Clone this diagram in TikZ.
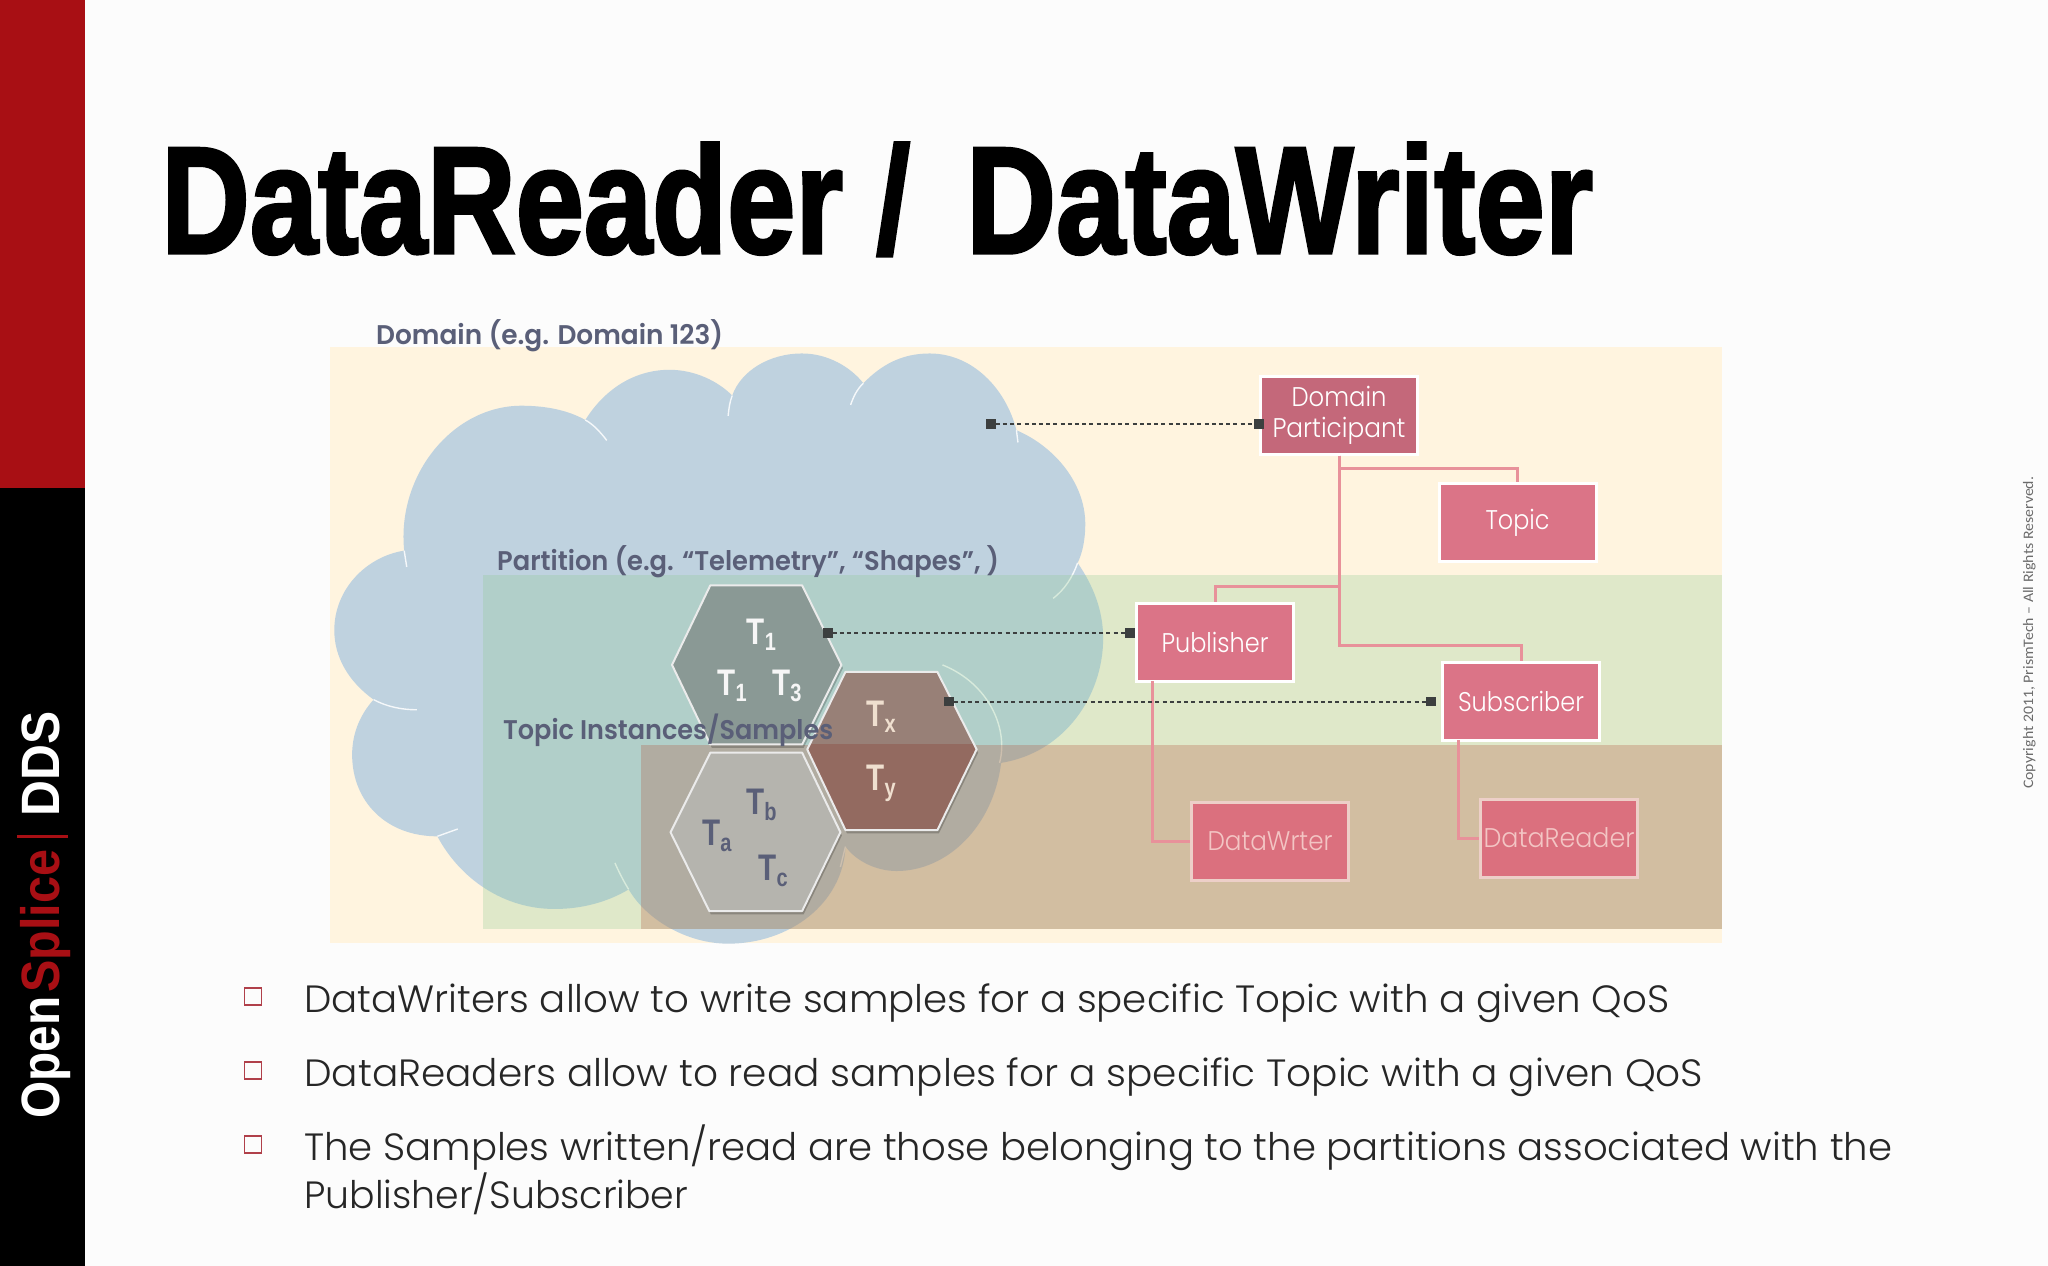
\documentclass[tikz,border=0pt]{standalone}
\usepackage{fontspec}
\usepackage{graphicx}
\setmainfont{Liberation Sans}
\newfontfamily\gothic{Poppins}[UprightFont=* Light,BoldFont=* SemiBold]
\newfontfamily\carl{Carlito}
\newfontfamily\heavy{Liberation Sans}[BoldFeatures={FakeBold=2.2}]
\newcommand{\fitw}[2]{\resizebox{#1pt}{\height}{#2}}
\newcommand{\Tl}[1]{\scalebox{.8}[1]{\bfseries\fontsize{37}{37}\selectfont T\raisebox{-6pt}{\fontsize{25}{25}\selectfont #1}}}
\definecolor{domainbg}{HTML}{FFF4DF}
\definecolor{cloudc}{HTML}{BFD2DF}
\definecolor{partc}{RGB}{141,201,144}
\definecolor{thirdc}{RGB}{180,93,70}
\definecolor{labelc}{HTML}{5A5F78}
\definecolor{redbar}{HTML}{A80F14}
\definecolor{boxa}{HTML}{DB7487}
\definecolor{boxdp}{HTML}{C4687A}
\definecolor{boxb}{HTML}{DB707E}
\definecolor{linkc}{HTML}{E8919A}
\definecolor{dotc}{HTML}{3C3F3F}
\definecolor{lowedge}{HTML}{EDCFC8}
\definecolor{lowtext}{HTML}{F3C5C4}
\definecolor{bulc}{HTML}{B0404A}
\tikzset{
  plainbox/.style={draw=white,line width=3pt,fill=boxa,text=white,minimum width=157pt,minimum height=78pt,inner sep=0pt,align=center,font=\gothic\fontsize{27}{32}\selectfont},
  lowbox/.style={plainbox,draw=lowedge,fill=boxb,text=lowtext},
  link/.style={draw=linkc,line width=3pt},
  sq/.style={fill=dotc,minimum size=9.5pt,inner sep=0pt,outer sep=0pt},
  dotline/.style={draw=dotc,line width=2pt,dash pattern=on 4pt off 3.2pt},
  zone/.style={inner sep=0pt,anchor=base west,text=labelc,font=\gothic\bfseries\fontsize{27}{30}\selectfont},
  bodyt/.style={inner sep=0pt,anchor=base west,text=black!85,font=\gothic\fontsize{38}{40}\selectfont},
  bul/.style={draw=bulc,line width=1.8pt,minimum size=17pt,inner sep=0pt},
  arc/.style={draw=white!85!cloudc,line width=1.4pt},
  hexb/.style={draw=white!92!black,line width=2pt,line join=round},
  tlabel/.style={inner sep=0pt},
  side/.style={rotate=90,anchor=base west,inner sep=0pt,font=\bfseries\fontsize{54}{54}\selectfont},
}
\begin{document}
\begin{tikzpicture}[x=1pt,y=-1pt]
\useasboundingbox (0,0) rectangle (2048,1266);
\fill[white!99!black] (0,0) rectangle (2048,1266);
% side bar
\fill[redbar] (0,0) rectangle (85,488);
\fill[black] (0,488) rectangle (85,1266);
\node[side,text=white] (sopen) at (59,1119) {\fitw{122}{Open}};
\node[side,text=redbar] (ssplice) at (59,993) {\fitw{143}{Splice}};
\fill[redbar] (17,834.5) rectangle (68,837.5);
\node[side,text=white] (sdds) at (59,817) {\fitw{105}{DDS}};
% title
\node[inner sep=0pt,anchor=base west] (title) at (161,253) {\heavy\bfseries\fontsize{152}{152}\selectfont\fitw{682}{DataReader}};
\node[inner sep=0pt,anchor=base west] (slash) at (876,253) {\heavy\bfseries\fontsize{152}{152}\selectfont\fitw{34}{/}};
\node[inner sep=0pt,anchor=base west] (title2) at (966,253) {\heavy\bfseries\fontsize{152}{152}\selectfont\fitw{627}{DataWriter}};
% backgrounds and cloud
\fill[domainbg] (330,347) rectangle (1722,943);
\begin{scope}[shift={(320,320)},x=0.5102pt,y=-0.40816pt]
\fill[cloudc] (520,245)
  .. controls (560,165) and (620,122) .. (685,122)
  .. controls (735,122) and (780,150) .. (808,185)
  .. controls (825,125) and (880,82) .. (945,82)
  .. controls (995,82) and (1040,115) .. (1065,155)
  .. controls (1100,110) and (1140,82) .. (1195,82)
  .. controls (1280,82) and (1345,170) .. (1365,270)
  .. controls (1440,310) and (1500,400) .. (1500,500)
  .. controls (1500,535) and (1495,570) .. (1485,595)
  .. controls (1515,650) and (1535,710) .. (1535,780)
  .. controls (1535,920) and (1460,1060) .. (1335,1085)
  .. controls (1320,1240) and (1230,1350) .. (1130,1350)
  .. controls (1090,1350) and (1050,1325) .. (1030,1290)
  .. controls (1025,1430) and (920,1528) .. (800,1528)
  .. controls (720,1528) and (640,1470) .. (605,1395)
  .. controls (565,1425) and (515,1443) .. (460,1443)
  .. controls (360,1443) and (275,1370) .. (230,1265)
  .. controls (130,1265) and (63,1180) .. (63,1065)
  .. controls (63,1010) and (80,965) .. (105,930)
  .. controls (55,885) and (28,825) .. (28,760)
  .. controls (28,660) and (90,580) .. (165,565)
  .. controls (150,380) and (260,210) .. (395,210)
  .. controls (440,210) and (485,220) .. (520,245) -- cycle;
\draw[arc] (520,245) .. controls (535,255) and (550,275) .. (562,295);
\draw[arc] (808,185) .. controls (803,200) and (801,220) .. (800,235);
\draw[arc] (1065,155) .. controls (1052,170) and (1045,190) .. (1040,208);
\draw[arc] (1365,270) -- (1368,300);
\draw[arc] (1485,595) .. controls (1475,630) and (1460,660) .. (1437,682);
\draw[arc] (1220,845) .. controls (1310,890) and (1350,1000) .. (1332,1085);
\draw[arc] (1030,1290) -- (1020,1340);
\draw[arc] (605,1395) .. controls (595,1375) and (585,1350) .. (578,1330);
\draw[arc] (230,1265) -- (270,1247);
\draw[arc] (105,930) .. controls (130,947) and (160,955) .. (190,955);
\draw[arc] (165,565) -- (170,605);
\end{scope}
\fill[partc,opacity=.28] (483,575) rectangle (1722,929);
\fill[thirdc,opacity=.3] (641,744.5) rectangle (1722,929);
% hexagons
\begin{scope}[shift={(320,320)},x=0.5102pt,y=-0.40816pt]
\def\hexA{(765,650) -- (945,650) -- (1022,845) -- (945,1040) -- (765,1040) -- (690,845) -- cycle}
\def\hexB{(1030,862) -- (1210,862) -- (1287,1052) -- (1210,1250) -- (1030,1250) -- (955,1052) -- cycle}
\def\hexC{(765,1060) -- (945,1060) -- (1020,1255) -- (945,1448) -- (763,1448) -- (687,1255) -- cycle}
\fill[black,opacity=.22,shift={(3,8)}] \hexA;
\fill[black,opacity=.22,shift={(3,8)}] \hexB;
\fill[black,opacity=.22,shift={(3,8)}] \hexC;
\fill[color={rgb,255:red,138;green,153;blue,149}] \hexA;
\fill[color={rgb,255:red,152;green,128;blue,119}] \hexB;
\begin{scope}
\clip (0,1040) rectangle (1600,1400);
\fill[color={rgb,255:red,147;green,106;blue,96}] \hexB;
\end{scope}
\fill[color={rgb,255:red,181;green,180;blue,174}] \hexC;
\draw[hexb] \hexA;
\draw[hexb] \hexB;
\draw[hexb] \hexC;
\node[tlabel,text=white!65!black!10] (t1a) at (865,770) {\Tl{1}};
\node[tlabel,text=white!65!black!10] (t1b) at (808,897) {\Tl{1}};
\node[tlabel,text=white!65!black!10] (t3) at (915,897) {\Tl{3}};
\node[tlabel,text=white!75!brown] (tx) at (1100,972) {\Tl{x}};
\node[tlabel,text=white!75!brown] (ty) at (1100,1135) {\Tl{y}};
\node[tlabel,text=labelc] (tb) at (865,1187) {\Tl{b}};
\node[tlabel,text=labelc] (ta) at (778,1265) {\Tl{a}};
\node[tlabel,text=labelc] (tc) at (888,1350) {\Tl{c}};
\end{scope}
% labels
\node[zone] (ldomain) at (376,344) {\fitw{347}{Domain (e.g. Domain 123)}};
\node[zone] (lpart) at (497,570) {\fitw{502}{Partition (e.g. “Telemetry”, “Shapes”, )}};
\node[zone] (ltopic) at (503,739.5) {\fitw{330}{Topic Instances/Samples}};
% boxes
\coordinate (jt) at (1400,468);
\coordinate (jp) at (1300,586);
\coordinate (js) at (1400,645.5);
\coordinate (pd) at (1152,681);
\coordinate (sd) at (1458,740);
\draw[link] (1339,453) -- (1339,468);
\node[plainbox,fill=boxdp] (dp) at (1339,415) {\raisebox{-3pt}{\fitw{95}{Domain}}\\[-1pt]\raisebox{-3pt}{\fitw{133}{Participant}}};
\node[plainbox] (topic) at (1517.5,522.5) {\raisebox{-4pt}{\fitw{64}{Topic}}};
\node[plainbox] (pub) at (1215,642) {\fitw{107}{Publisher}};
\node[plainbox] (sub) at (1521,701) {\fitw{126}{Subscriber}};
\node[lowbox] (dw) at (1270,841.5) {\fitw{125}{DataWrter}};
\node[lowbox] (dr) at (1559,838) {\fitw{151}{DataReader}};
\draw[link] (dp.south) |- (jt) -| (topic.north);
\draw[link] (dp.south) |- (jp) -| (pub.north);
\draw[link] (dp.south) |- (js) -| (sub.north);
\draw[link] (pd) |- (dw.west);
\draw[link] (sd) |- (dr.west);
% dotted connectors
\node[sq] (c1) at (991,424) {};
\node[sq] (c1e) at (1259,424) {};
\node[sq] (c2) at (828,633) {};
\node[sq] (c2e) at (1130,633) {};
\node[sq] (c3) at (949,701.5) {};
\node[sq] (c3e) at (1431,701.5) {};
\draw[dotline] (c1) -- (c1e);
\draw[dotline] (c2) -- (c2e);
\draw[dotline] (c3) -- (c3e);
% bullets
\node[bul] (b1) at (253,996.5) {};
\node[bul] (b2) at (253,1070.5) {};
\node[bul] (b3) at (253,1144.5) {};
\node[bodyt] (l1) at (304,1012) {\fitw{1365}{DataWriters allow to write samples for a specific Topic with a given QoS}};
\node[bodyt] (l2) at (304,1086) {\fitw{1399}{DataReaders allow to read samples for a specific Topic with a given QoS}};
\node[bodyt] (l3) at (304,1160) {\fitw{1588}{The Samples written/read are those belonging to the partitions associated with the}};
\node[bodyt] (l4) at (304,1208) {\fitw{384}{Publisher/Subscriber}};
% copyright
\node[rotate=90,anchor=base west,inner sep=0pt,text=black!58,font=\carl\fontsize{14.5}{15}\selectfont] (copy) at (2033,789) {\fitw{312}{Copyright 2011, PrismTech – All Rights Reserved.}};
\end{tikzpicture}
\end{document}
